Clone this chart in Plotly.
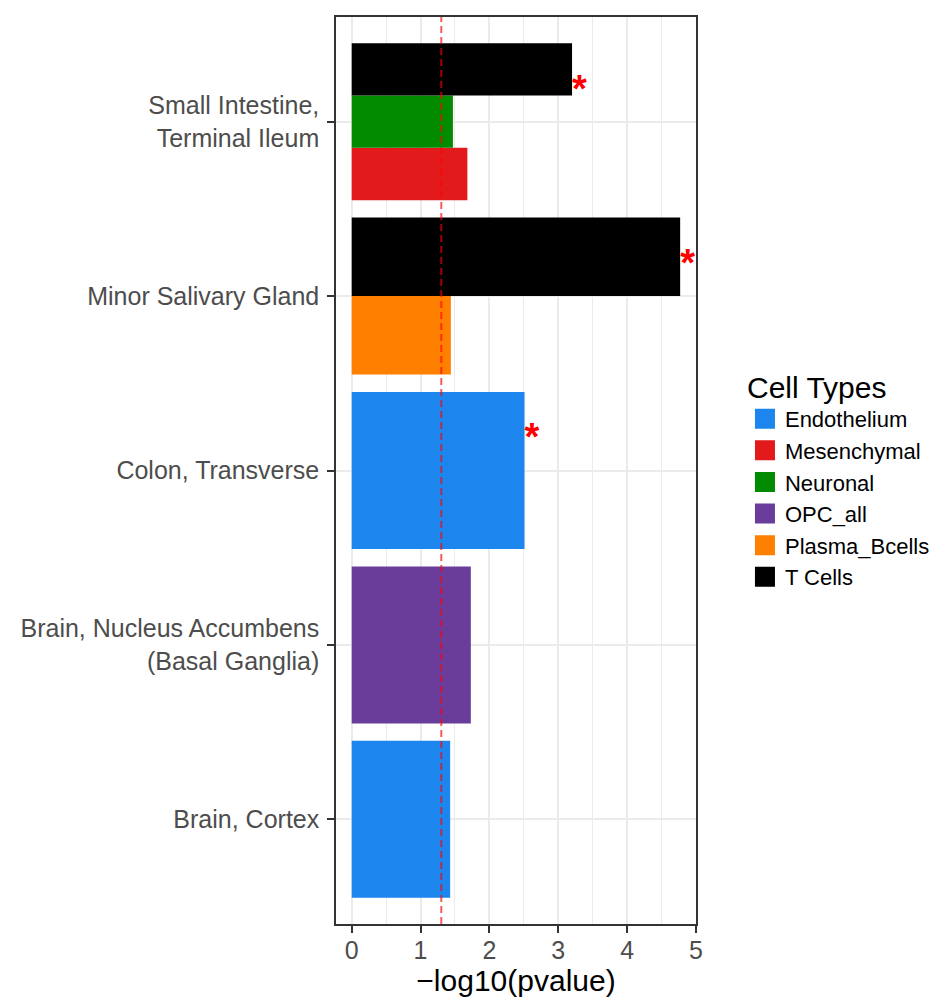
"""Tissue enrichment bar chart: -log10(pvalue) per tissue, dodged by cell type."""

import numpy as np
import plotly.graph_objects as go

# tissues, bottom to top
TISSUES = [
    "Brain, Cortex",
    "Brain, Nucleus Accumbens (Basal Ganglia)",
    "Colon, Transverse",
    "Minor Salivary Gland",
    "Small Intestine, Terminal Ileum",
]
TISSUE_LABELS = [
    "Brain, Cortex",
    "Brain, Nucleus Accumbens<br>(Basal Ganglia)",
    "Colon, Transverse",
    "Minor Salivary Gland",
    "Small Intestine,<br>Terminal Ileum",
]

CELL_TYPES = ["Endothelium", "Mesenchymal", "Neuronal", "OPC_all", "Plasma_Bcells", "T Cells"]
CELL_COLORS = ["#1C86EE", "#E31A1C", "#008B00", "#6A3D9A", "#FF7F00", "#000000"]

# one row per bar
row_tissue = [
    "Brain, Cortex",
    "Brain, Nucleus Accumbens (Basal Ganglia)",
    "Colon, Transverse",
    "Minor Salivary Gland",
    "Minor Salivary Gland",
    "Small Intestine, Terminal Ileum",
    "Small Intestine, Terminal Ileum",
    "Small Intestine, Terminal Ileum",
]
row_cell = [
    "Endothelium",
    "OPC_all",
    "Endothelium",
    "Plasma_Bcells",
    "T Cells",
    "Mesenchymal",
    "Neuronal",
    "T Cells",
]
row_logp = [1.43, 1.73, 2.51, 1.44, 4.77, 1.68, 1.47, 3.20]
row_signif = [False, False, True, False, True, False, False, True]

P_THRESHOLD = 0.05
DODGE_WIDTH = 0.9
STAR_DY = 0.17

GRID = "#EBEBEB"
DARK = "#333333"
AXIS_TEXT = "#4D4D4D"
FONT = "Liberation Sans"

# ggplot-style dodge: bars share the group width only with bars actually present
centers = np.zeros(len(row_tissue))
widths = np.zeros(len(row_tissue))
for t_idx, tissue in enumerate(TISSUES):
    rows = [i for i, t in enumerate(row_tissue) if t == tissue]
    rows.sort(key=lambda i: CELL_TYPES.index(row_cell[i]))
    n = len(rows)
    w = DODGE_WIDTH / n
    for k, i in enumerate(rows):
        centers[i] = t_idx - DODGE_WIDTH / 2 + w * (k + 0.5)
        widths[i] = w

fig = go.Figure()

for cell, color in zip(CELL_TYPES, CELL_COLORS):
    idx = [i for i, c in enumerate(row_cell) if c == cell]
    fig.add_trace(
        go.Bar(
            x=[row_logp[i] for i in idx],
            y=centers[idx],
            width=widths[idx],
            orientation="h",
            marker={"color": color, "line": {"width": 0}},
            name=cell,
            showlegend=False,
        )
    )
    # legend-only entry with a larger square key
    fig.add_trace(
        go.Scatter(
            x=[None],
            y=[None],
            mode="markers",
            marker={"symbol": "square", "size": 16, "color": color, "line": {"color": color, "width": 4}},
            name=cell,
        )
    )

star_idx = [i for i, s in enumerate(row_signif) if s]
fig.add_trace(
    go.Scatter(
        x=[row_logp[i] for i in star_idx],
        y=[TISSUES.index(row_tissue[i]) + STAR_DY for i in star_idx],
        mode="text",
        text=["*"] * len(star_idx),
        textposition="middle right",
        textfont={"family": FONT, "size": 38, "color": "red", "weight": "bold"},
        showlegend=False,
        hoverinfo="skip",
    )
)

fig.add_vline(
    x=-np.log10(P_THRESHOLD),
    line={"color": "rgba(255,0,0,0.65)", "width": 2, "dash": "7px,4px"},
    layer="above",
)

fig.update_layout(
    width=952,
    height=1003,
    barmode="overlay",
    plot_bgcolor="white",
    paper_bgcolor="white",
    margin={"l": 328, "r": 264, "t": 7, "b": 87},
    font={"family": FONT, "size": 25, "color": "black"},
    legend={
        "title": {"text": "Cell Types", "font": {"size": 30}},
        "font": {"size": 22},
        "x": 1.136,
        "xanchor": "left",
        "y": 0.623,
        "yanchor": "top",
        "tracegroupgap": 0,
        "itemsizing": "trace",
    },
)
fig.update_xaxes(
    title={"text": "−log10(pvalue)", "font": {"size": 30}, "standoff": 0},
    range=[-0.228, 5.0],
    tickvals=[0, 1, 2, 3, 4, 5],
    ticks="outside",
    ticklen=7,
    tickwidth=1.5,
    tickcolor=DARK,
    tickfont={"size": 25, "color": AXIS_TEXT},
    ticklabelstandoff=-4,
    showgrid=True,
    gridcolor=GRID,
    gridwidth=2,
    minor={"dtick": 0.5, "showgrid": True, "gridcolor": GRID, "gridwidth": 1},
    zeroline=False,
    showline=True,
    linecolor=DARK,
    linewidth=1.5,
    mirror=True,
)
fig.update_yaxes(
    range=[-0.6, len(TISSUES) - 0.4],
    tickvals=list(range(len(TISSUES))),
    ticktext=TISSUE_LABELS,
    ticks="outside",
    ticklen=7,
    tickwidth=1.5,
    tickcolor=DARK,
    tickfont={"size": 25, "color": AXIS_TEXT},
    ticklabelstandoff=3,
    showgrid=True,
    gridcolor=GRID,
    gridwidth=2,
    zeroline=False,
    showline=True,
    linecolor=DARK,
    linewidth=1.5,
    mirror=True,
)

fig.write_html("out.html")
